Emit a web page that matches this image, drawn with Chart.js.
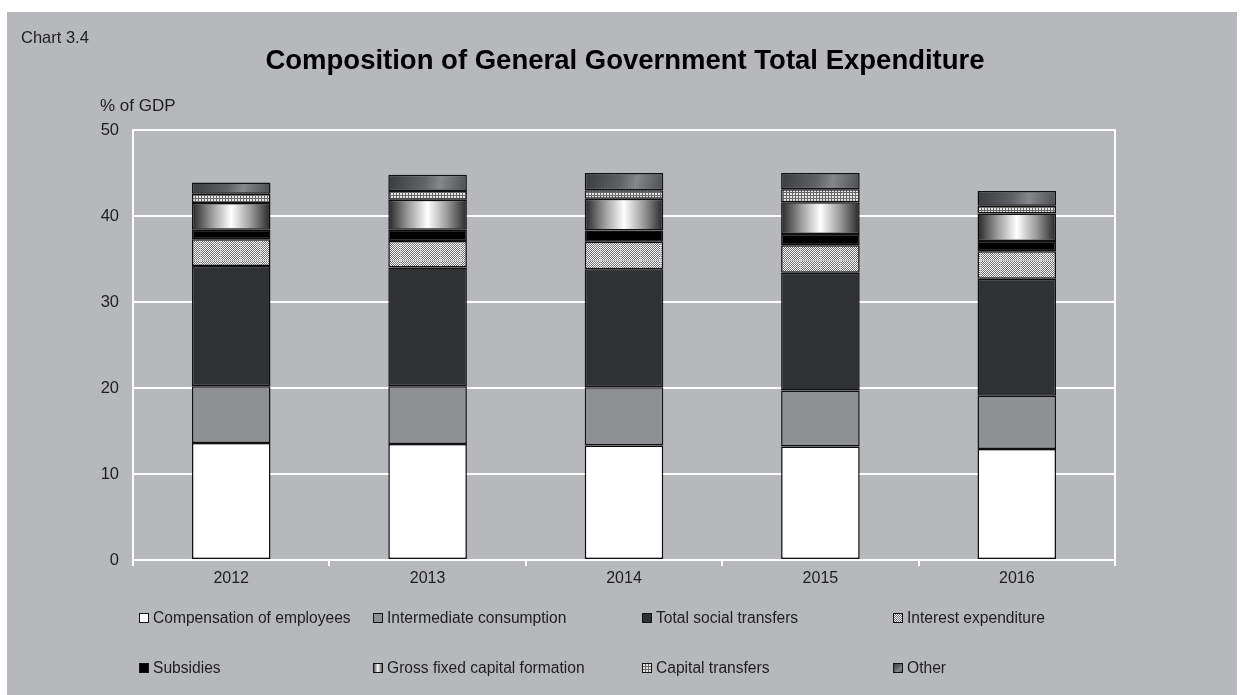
<!DOCTYPE html>
<html>
<head>
<meta charset="utf-8">
<script src="https://cdn.jsdelivr.net/npm/chart.js@4"></script>
<style>
  html, body { margin: 0; padding: 0; background: #fff; }
  #wrap { position: relative; width: 1244px; height: 695px; overflow: hidden;
          font-family: "Liberation Sans", Arial, sans-serif; color: #1e1e1e; }
  #chart { position: absolute; left: 0; top: 0; }
  .txt { position: absolute; white-space: nowrap; }
  #chart-no { left: 21px; top: 29px; font-size: 16.5px; line-height: 16px; }
  #title { left: 6px; width: 1238px; top: 46px; text-align: center; font-size: 27.5px; line-height: 27px; font-weight: bold; color: #000; }
  #unit { left: 100px; top: 97px; font-size: 17px; line-height: 17px; }
  .lg-item { position: absolute; font-size: 15.6px; line-height: 16px; white-space: nowrap; }
  .lg-item canvas { position: absolute; left: 0; top: 3px; }
  .lg-item span { position: absolute; left: 14px; top: 0; }
</style>
</head>
<body>
<div id="wrap">
  <canvas id="chart" width="1244" height="695"></canvas>
  <div class="txt" id="chart-no">Chart 3.4</div>
  <div class="txt" id="title">Composition of General Government Total Expenditure</div>
  <div class="txt" id="unit">% of GDP</div>
  <div id="legend"></div>
</div>
<script>
// expenditure components, % of GDP, stacked bottom to top
const years = ['2012', '2013', '2014', '2015', '2016'];
const compensation = [13.6, 13.5, 13.3, 13.2, 12.9];
const intermediate = [6.6, 6.7, 6.8, 6.5, 6.2];
const socialTransfers = [14.0, 13.8, 13.7, 13.7, 13.6];
const interest = [3.1, 3.1, 3.2, 3.2, 3.2];
const subsidies = [1.1, 1.3, 1.3, 1.3, 1.2];
const gfcf = [3.1, 3.5, 3.7, 3.7, 3.2];
const capitalTransfers = [1.1, 1.0, 1.0, 1.5, 0.9];
const other = [1.3, 1.9, 2.0, 1.9, 1.7];
const yTicks = [0, 10, 20, 30, 40, 50];

const BAR_PCT = 0.4;

// fine checkerboard with faint light grid (interest expenditure)
function checkerPattern() {
    const c = document.createElement('canvas');
    c.width = c.height = 20;
    const g = c.getContext('2d');
    g.fillStyle = '#fff';
    g.fillRect(0, 0, 20, 20);
    g.fillStyle = '#707070';
    for (let y = 0; y < 20; y++) {
        for (let x = 0; x < 20; x++) {
            if ((x + y) % 2) g.fillRect(x, y, 1, 1);
        }
    }
    g.fillStyle = '#c8c8c8';
    g.fillRect(0, 0, 20, 1);
    g.fillRect(0, 0, 1, 20);
    return g.createPattern(c, 'repeat');
}

// small mesh (capital transfers)
function meshPattern() {
    const c = document.createElement('canvas');
    c.width = c.height = 3;
    const g = c.getContext('2d');
    g.fillStyle = '#e6e6e6';
    g.fillRect(0, 0, 3, 3);
    g.fillStyle = '#686868';
    g.fillRect(0, 0, 3, 1);
    g.fillRect(0, 0, 1, 3);
    return g.createPattern(c, 'repeat');
}

function cylinderGradient(g, x0, x1) {
    const gr = g.createLinearGradient(x0, 0, x1, 0);
    gr.addColorStop(0, '#262626');
    gr.addColorStop(0.25, '#9a9a9a');
    gr.addColorStop(0.5, '#ffffff');
    gr.addColorStop(0.75, '#9a9a9a');
    gr.addColorStop(1, '#262626');
    return gr;
}

function slantGradient(g, x0, y0, x1, y1) {
    const gr = g.createLinearGradient(x0, y0, x1, y1);
    gr.addColorStop(0, '#3a3b3e');
    gr.addColorStop(0.45, '#606164');
    gr.addColorStop(0.65, '#86878a');
    gr.addColorStop(1, '#4c4d50');
    return gr;
}

// horizontal extent of a bar, from the category scale
function barSpan(ctx) {
    const chart = ctx.chart;
    const xs = chart.scales.x;
    if (!xs || !chart.chartArea || ctx.dataIndex === undefined) return null;
    const cx = xs.getPixelForValue(ctx.dataIndex);
    const w = xs.width / years.length * BAR_PCT;
    if (!isFinite(cx) || !isFinite(w) || w <= 0) return null;
    return [cx - w / 2, cx + w / 2];
}

const checker = checkerPattern();
const mesh = meshPattern();

const series = [
    { label: 'Compensation of employees', data: compensation, fill: '#ffffff' },
    { label: 'Intermediate consumption', data: intermediate, fill: '#8e9094' },
    { label: 'Total social transfers', data: socialTransfers, fill: '#303133' },
    { label: 'Interest expenditure', data: interest, fill: checker },
    { label: 'Subsidies', data: subsidies, fill: '#000000' },
    { label: 'Gross fixed capital formation', data: gfcf, fill: 'cylinder' },
    { label: 'Capital transfers', data: capitalTransfers, fill: mesh },
    { label: 'Other', data: other, fill: 'slant' }
];

function fillFor(s, idx) {
    if (s.fill === 'cylinder') {
        return ctx => {
            const span = barSpan(ctx);
            if (!span) return '#888';
            return cylinderGradient(ctx.chart.ctx, span[0], span[1]);
        };
    }
    if (s.fill === 'slant') {
        return ctx => {
            const span = barSpan(ctx);
            if (!span) return '#555';
            const ys = ctx.chart.scales.y;
            let base = 0;
            for (let k = 0; k < idx; k++) base += series[k].data[ctx.dataIndex];
            const top = ys.getPixelForValue(base + s.data[ctx.dataIndex]);
            const bot = ys.getPixelForValue(base);
            if (!isFinite(top) || !isFinite(bot)) return '#555';
            return slantGradient(ctx.chart.ctx, span[0], top, span[1], bot);
        };
    }
    return s.fill;
}

const datasets = series.map((s, i) => ({
    label: s.label,
    data: s.data,
    backgroundColor: fillFor(s, i),
    borderColor: '#101010',
    borderWidth: 1.5,
    borderSkipped: false,
    barPercentage: BAR_PCT,
    categoryPercentage: 1.0
}));

const backdrop = {
    id: 'backdrop',
    beforeDraw(chart) {
        const g = chart.ctx;
        g.save();
        g.fillStyle = '#ffffff';
        g.fillRect(0, 0, chart.width, chart.height);
        g.fillStyle = '#b7b8bc';
        g.fillRect(7, 12, chart.width - 14, chart.height - 12);
        g.restore();
    },
    beforeDatasetsDraw(chart) {
        const a = chart.chartArea;
        const g = chart.ctx;
        g.save();
        g.strokeStyle = '#ffffff';
        g.lineWidth = 2;
        g.strokeRect(a.left, a.top, a.right - a.left, a.bottom - a.top);
        g.restore();
    }
};

const font = { family: '"Liberation Sans", Arial, sans-serif', size: 16 };

new Chart(document.getElementById('chart'), {
    type: 'bar',
    data: { labels: years, datasets: datasets },
    options: {
        responsive: false,
        animation: false,
        devicePixelRatio: 1,
        layout: { padding: { left: 93, right: 129, top: 130, bottom: 105 } },
        plugins: {
            legend: { display: false },
            title: { display: false },
            tooltip: { enabled: false }
        },
        scales: {
            x: {
                stacked: true,
                grid: { offset: true, drawOnChartArea: false, color: '#ffffff', lineWidth: 2, tickLength: 6 },
                border: { display: false },
                ticks: { color: '#1e1e1e', font: font, padding: 3, maxRotation: 0 },
                afterFit(scale) { scale.height = 30; }
            },
            y: {
                stacked: true,
                min: 0,
                max: 50,
                afterBuildTicks(scale) { scale.ticks = yTicks.map(v => ({ value: v })); },
                grid: { color: '#ffffff', lineWidth: 2, drawTicks: false },
                border: { color: '#ffffff', width: 2 },
                ticks: { color: '#1e1e1e', font: { family: font.family, size: 16.5 }, padding: 14 },
                afterFit(scale) { scale.width = 40; }
            }
        }
    },
    plugins: [backdrop]
});

// legend in two rows of four fixed columns
const legendCols = [139, 373, 642, 893];
const legendRows = [610, 660];
const legend = document.getElementById('legend');

series.forEach((s, i) => {
    const item = document.createElement('div');
    item.className = 'lg-item';
    item.style.left = legendCols[i % 4] + 'px';
    item.style.top = legendRows[Math.floor(i / 4)] + 'px';

    const sw = document.createElement('canvas');
    sw.width = 10;
    sw.height = 10;
    const g = sw.getContext('2d');
    if (s.fill === 'cylinder') g.fillStyle = cylinderGradient(g, 0, 10);
    else if (s.fill === 'slant') g.fillStyle = slantGradient(g, 0, 0, 10, 10);
    else g.fillStyle = s.fill;
    g.fillRect(0, 0, 10, 10);
    g.strokeStyle = '#141414';
    g.lineWidth = 1;
    g.strokeRect(0.5, 0.5, 9, 9);

    const label = document.createElement('span');
    label.textContent = s.label;

    item.appendChild(sw);
    item.appendChild(label);
    legend.appendChild(item);
});
</script>
</body>
</html>
